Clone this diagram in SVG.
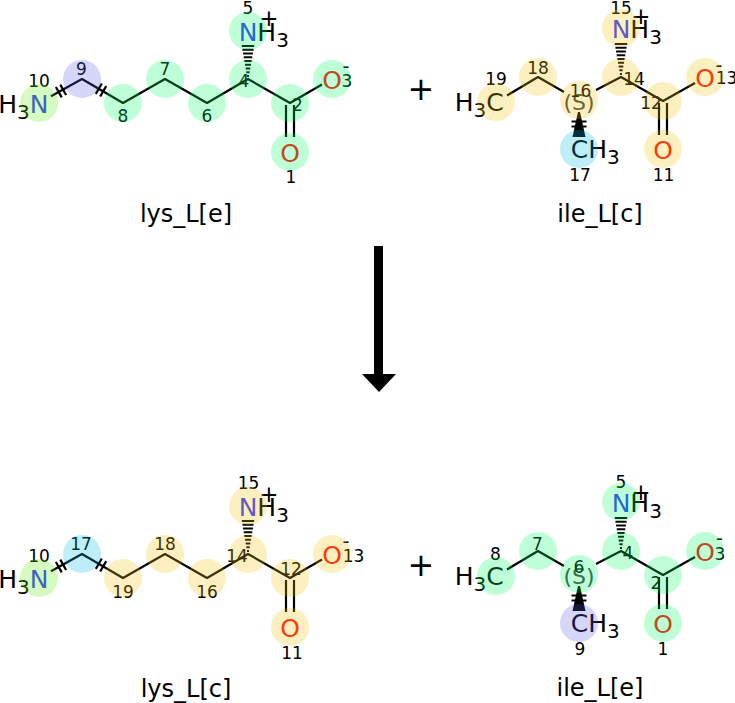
<svg xmlns="http://www.w3.org/2000/svg" xmlns:xlink="http://www.w3.org/1999/xlink" width="735" height="703" viewBox="0 0 735 703">
<style>
text{font-family:"DejaVu Sans","Liberation Sans",sans-serif;fill:#000}
.lbl{font-size:25px}
.sub{font-size:20px}
.num{font-size:17px}
.chg{font-size:23px}
.chm{font-size:19px}
.cap{font-size:24px}
.big{font-size:32px}
.stereo{font-size:22px;fill:#444}
.N{fill:#3333ff}
.O{fill:#ff0d0d}
.b{stroke:#000;stroke-width:2.2;fill:none;stroke-linejoin:round}
.h{stroke:#000;stroke-width:1.9}
.hl{fill-opacity:.25}
.mint{fill:#00ff60}
.yel{fill:#f8c404}
.lav{fill:#5c5cf0}
.lime{fill:#5cf004}
.cyan{fill:#00bcf0}
</style>
<defs>
<g id="lysBonds">
<path class="b" d="M51,96.3 L82,79 L123,103 L165,79 L207,103 L248,79 L290,103 L322,84.5"/>
<path class="b" d="M286,105 V137 M294,105 V137"/>
<path class="b" d="M55.9,87 L61.7,97.4 M60.3,84.6 L66.1,95 M95.8,93.9 L101.8,83.5 M100.2,96.5 L106.2,86.1"/>
<path class="h" d="M247,76 H249 M246.35,72.25 H249.65 M245.7,68.5 H250.3 M245.05,64.75 H250.95 M244.4,61 H251.6 M243.75,57.25 H252.25 M243.1,53.5 H252.9 M242.45,49.75 H253.55 M241.8,46 H254.2"/>
</g>
<g id="ileBonds">
<path class="b" d="M507,95.5 L538,77 L564,92"/>
<path class="b" d="M596,90 L621,77 L663,101 L695,83"/>
<path class="b" d="M659,103 V135 M667,103 V135"/>
<path class="h" d="M620,74 H622 M619.35,70.25 H622.65 M618.7,66.5 H623.3 M618.05,62.75 H623.95 M617.4,59 H624.6 M616.75,55.25 H625.25 M616.1,51.5 H625.9 M615.45,47.75 H626.55 M614.8,44 H627.2"/>
<polygon points="578,112 580,112 585.5,137 572.5,137" fill="#000"/>
<path class="b" d="M571.5,121.5 H586.5 M571.5,126.5 H586.5"/>
</g>
</defs>

<g id="connectors">
<use id="bonds-lys_L_e" xlink:href="#lysBonds"/>
<use id="bonds-ile_L_c" xlink:href="#ileBonds"/>
<use id="bonds-lys_L_c" xlink:href="#lysBonds" y="475"/>
<use id="bonds-ile_L_e" xlink:href="#ileBonds" y="474"/>
<g id="reaction-arrow">
<rect x="374" y="246" width="9" height="129" fill="#000"/>
<polygon points="362,374 396,374 379,392" fill="#000"/>
</g>
</g>

<!-- lys_L[e] -->
<g id="lys_L_e">
<g id="lysE-10"><text class="lbl" x="29.7" y="112.5" text-anchor="end">H<tspan class="sub" dy="6">3</tspan></text><text class="lbl N" x="39" y="112.5" text-anchor="middle">N</text><text class="num" x="39" y="87" text-anchor="middle">10</text><circle class="hl lime" cx="39" cy="103" r="19"/></g>
<g id="lysE-9"><text class="num" x="81.5" y="75" text-anchor="middle">9</text><circle class="hl lav" cx="82" cy="79" r="19"/></g>
<g id="lysE-8"><text class="num" x="123" y="122" text-anchor="middle">8</text><circle class="hl mint" cx="123" cy="103" r="19"/></g>
<g id="lysE-7"><text class="num" x="165" y="75" text-anchor="middle">7</text><circle class="hl mint" cx="165" cy="79" r="19"/></g>
<g id="lysE-6"><text class="num" x="207" y="122" text-anchor="middle">6</text><circle class="hl mint" cx="207" cy="103" r="19"/></g>
<g id="lysE-4"><text class="num" x="244" y="86.5" text-anchor="middle">4</text><circle class="hl mint" cx="248" cy="79" r="19"/></g>
<g id="lysE-5"><text class="lbl N" x="248" y="40.5" text-anchor="middle">N</text><text class="lbl" x="257.35" y="40.5">H<tspan class="sub" dy="6">3</tspan></text><text class="chg" x="269" y="26" text-anchor="middle">+</text><text class="num" x="248" y="14" text-anchor="middle">5</text><circle class="hl mint" cx="248" cy="31" r="19"/></g>
<g id="lysE-2"><text class="num" x="297.5" y="110.5" text-anchor="middle">2</text><circle class="hl mint" cx="290" cy="103" r="19"/></g>
<g id="lysE-3"><text class="lbl O" x="332" y="88.5" text-anchor="middle">O</text><text class="num" x="347" y="86.5" text-anchor="middle">3</text><text class="chm" x="346" y="73" text-anchor="middle">-</text><circle class="hl mint" cx="332" cy="79" r="19"/></g>
<g id="lysE-1"><text class="lbl O" x="290" y="161.5" text-anchor="middle">O</text><text class="num" x="291" y="182.5" text-anchor="middle">1</text><circle class="hl mint" cx="290" cy="152" r="19"/></g>
<text id="lysE-name" class="cap" x="186" y="222" text-anchor="middle">lys_L[e]</text>
</g>

<!-- ile_L[c] -->
<g id="ile_L_c">
<g id="ileC-19"><text class="lbl" x="486.3" y="111" text-anchor="end">H<tspan class="sub" dy="6">3</tspan></text><text class="lbl" x="495" y="111" text-anchor="middle">C</text><text class="num" x="496" y="84.5" text-anchor="middle">19</text><circle class="hl yel" cx="496" cy="102" r="19"/></g>
<g id="ileC-18"><text class="num" x="538" y="73.5" text-anchor="middle">18</text><circle class="hl yel" cx="538" cy="77" r="19"/></g>
<g id="ileC-16"><text class="stereo" x="579" y="109.5" text-anchor="middle">(S)</text><text class="num" x="580.5" y="97" text-anchor="middle">16</text><circle class="hl yel" cx="579" cy="100" r="19"/></g>
<g id="ileC-14"><text class="num" x="634" y="85" text-anchor="middle">14</text><circle class="hl yel" cx="621" cy="77" r="19"/></g>
<g id="ileC-15"><text class="lbl N" x="621" y="38" text-anchor="middle">N</text><text class="lbl" x="630.35" y="38">H<tspan class="sub" dy="6">3</tspan></text><text class="chg" x="641" y="23.5" text-anchor="middle">+</text><text class="num" x="621" y="13.5" text-anchor="middle">15</text><circle class="hl yel" cx="621" cy="28" r="19"/></g>
<g id="ileC-12"><text class="num" x="651" y="109" text-anchor="middle">12</text><circle class="hl yel" cx="663" cy="101" r="19"/></g>
<g id="ileC-13"><text class="lbl O" x="705" y="86.5" text-anchor="middle">O</text><text class="num" x="726.5" y="84" text-anchor="middle">13</text><text class="chm" x="719" y="72" text-anchor="middle">-</text><circle class="hl yel" cx="705" cy="77" r="19"/></g>
<g id="ileC-11"><text class="lbl O" x="663" y="158.5" text-anchor="middle">O</text><text class="num" x="663.5" y="180.5" text-anchor="middle">11</text><circle class="hl yel" cx="663" cy="149" r="19"/></g>
<g id="ileC-17"><text class="lbl" x="579.5" y="158" text-anchor="middle">C</text><text class="lbl" x="588.2" y="158">H<tspan class="sub" dy="6">3</tspan></text><text class="num" x="580" y="180.5" text-anchor="middle">17</text><circle class="hl cyan" cx="579" cy="149" r="19"/></g>
<text id="ileC-name" class="cap" x="600" y="222" text-anchor="middle">ile_L[c]</text>
</g>

<g id="plus-top"><text class="big" x="421" y="99.5" text-anchor="middle">+</text></g>

<!-- lys_L[c] -->
<g id="lys_L_c" transform="translate(0,475)">
<g id="lysC-10"><text class="lbl" x="29.7" y="112.5" text-anchor="end">H<tspan class="sub" dy="6">3</tspan></text><text class="lbl N" x="39" y="112.5" text-anchor="middle">N</text><text class="num" x="39" y="87" text-anchor="middle">10</text><circle class="hl lime" cx="39" cy="103" r="19"/></g>
<g id="lysC-17"><text class="num" x="81" y="75" text-anchor="middle">17</text><circle class="hl cyan" cx="82" cy="79" r="19"/></g>
<g id="lysC-19"><text class="num" x="123" y="123" text-anchor="middle">19</text><circle class="hl yel" cx="123" cy="103" r="19"/></g>
<g id="lysC-18"><text class="num" x="165" y="75" text-anchor="middle">18</text><circle class="hl yel" cx="165" cy="79" r="19"/></g>
<g id="lysC-16"><text class="num" x="207" y="123" text-anchor="middle">16</text><circle class="hl yel" cx="207" cy="103" r="19"/></g>
<g id="lysC-14"><text class="num" x="237" y="86.5" text-anchor="middle">14</text><circle class="hl yel" cx="248" cy="79" r="19"/></g>
<g id="lysC-15"><text class="lbl N" x="248" y="40.5" text-anchor="middle">N</text><text class="lbl" x="257.35" y="40.5">H<tspan class="sub" dy="6">3</tspan></text><text class="chg" x="269" y="27" text-anchor="middle">+</text><text class="num" x="248.5" y="14" text-anchor="middle">15</text><circle class="hl yel" cx="248" cy="31" r="19"/></g>
<g id="lysC-12"><text class="num" x="291" y="100" text-anchor="middle">12</text><circle class="hl yel" cx="290" cy="103" r="19"/></g>
<g id="lysC-13"><text class="lbl O" x="332" y="88.5" text-anchor="middle">O</text><text class="num" x="353.5" y="86.5" text-anchor="middle">13</text><text class="chm" x="346" y="72.5" text-anchor="middle">-</text><circle class="hl yel" cx="332" cy="79" r="19"/></g>
<g id="lysC-11"><text class="lbl O" x="290" y="161.5" text-anchor="middle">O</text><text class="num" x="292" y="183.5" text-anchor="middle">11</text><circle class="hl yel" cx="290" cy="152" r="19"/></g>
<text id="lysC-name" class="cap" x="186" y="222" text-anchor="middle">lys_L[c]</text>
</g>

<!-- ile_L[e] -->
<g id="ile_L_e" transform="translate(0,474)">
<g id="ileE-8"><text class="lbl" x="486.3" y="111" text-anchor="end">H<tspan class="sub" dy="6">3</tspan></text><text class="lbl" x="495" y="111" text-anchor="middle">C</text><text class="num" x="495.5" y="86" text-anchor="middle">8</text><circle class="hl mint" cx="496" cy="102" r="19"/></g>
<g id="ileE-7"><text class="num" x="537.5" y="76" text-anchor="middle">7</text><circle class="hl mint" cx="538" cy="77" r="19"/></g>
<g id="ileE-6"><text class="stereo" x="579" y="109.5" text-anchor="middle">(S)</text><text class="num" x="579" y="99" text-anchor="middle">6</text><circle class="hl mint" cx="579" cy="100" r="19"/></g>
<g id="ileE-4"><text class="num" x="628" y="85" text-anchor="middle">4</text><circle class="hl mint" cx="621" cy="77" r="19"/></g>
<g id="ileE-5"><text class="lbl N" x="621" y="38" text-anchor="middle">N</text><text class="lbl" x="630.35" y="38">H<tspan class="sub" dy="6">3</tspan></text><text class="chg" x="641" y="26" text-anchor="middle">+</text><text class="num" x="621" y="14" text-anchor="middle">5</text><circle class="hl mint" cx="621" cy="28" r="19"/></g>
<g id="ileE-2"><text class="num" x="656" y="114.5" text-anchor="middle">2</text><circle class="hl mint" cx="663" cy="101" r="19"/></g>
<g id="ileE-3"><text class="lbl O" x="705" y="86.5" text-anchor="middle">O</text><text class="num" x="720" y="85.5" text-anchor="middle">3</text><text class="chm" x="719.5" y="70.5" text-anchor="middle">-</text><circle class="hl mint" cx="705" cy="77" r="19"/></g>
<g id="ileE-1"><text class="lbl O" x="663" y="158.5" text-anchor="middle">O</text><text class="num" x="663" y="181" text-anchor="middle">1</text><circle class="hl mint" cx="663" cy="149" r="19"/></g>
<g id="ileE-9"><text class="lbl" x="579.5" y="158" text-anchor="middle">C</text><text class="lbl" x="588.2" y="158">H<tspan class="sub" dy="6">3</tspan></text><text class="num" x="580" y="181" text-anchor="middle">9</text><circle class="hl lav" cx="579" cy="149" r="19"/></g>
<text id="ileE-name" class="cap" x="600" y="222" text-anchor="middle">ile_L[e]</text>
</g>

<g id="plus-bottom"><text class="big" x="421" y="575.5" text-anchor="middle">+</text></g>
</svg>
